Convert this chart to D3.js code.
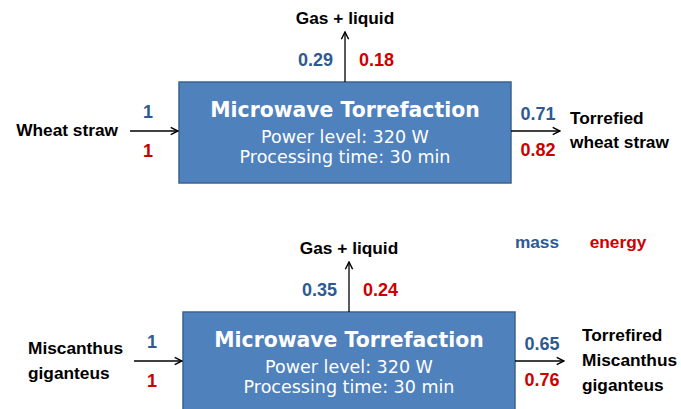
<!DOCTYPE html>
<html>
<head>
<meta charset="utf-8">
<script src="https://cdn.jsdelivr.net/npm/d3@7"></script>
<style>
  body { margin: 0; background: #fff; }
  svg { display: block; }
</style>
</head>
<body>
<div id="chart"></div>
<script>
// feedstocks and their balances (inputs normalised to 1)
const feeds = ["Wheat straw", "Miscanthus giganteus"];
const feedLabels = [["Wheat straw"], ["Miscanthus", "giganteus"]];
const productLabels = [["Torrefied", "wheat straw"], ["Torrefired", "Miscanthus", "giganteus"]];
const inputMass = [1, 1];
const inputEnergy = [1, 1];
const gasMass = [0.29, 0.35];
const gasEnergy = [0.18, 0.24];
const solidMass = [0.71, 0.65];
const solidEnergy = [0.82, 0.76];
const processTitle = "Microwave Torrefaction";
const processLines = ["Power level: 320 W", "Processing time: 30 min"];
const legendItems = ["mass", "energy"];

const width = 681, height = 409;
const blue = "#2d5a94", red = "#cc0000";
const labelFont = "'Liberation Sans', Arial, sans-serif";
const boxFont = "'DejaVu Sans', Verdana, sans-serif";

const svg = d3.select("#chart").append("svg")
  .attr("width", width).attr("height", height);

svg.append("defs").append("marker")
  .attr("id", "arr").attr("viewBox", "0 0 10 10")
  .attr("refX", 9).attr("refY", 5)
  .attr("markerWidth", 7).attr("markerHeight", 7)
  .attr("orient", "auto")
  .append("path").attr("d", "M1,1 L9,5 L1,9").attr("fill", "none")
  .attr("stroke", "#000").attr("stroke-width", 1.6);

// placement of each block
const blockY = d3.scaleOrdinal().domain(feeds).range([82, 312]);
const blockX = d3.scaleOrdinal().domain(feeds).range([179, 183]);
const fmt = d => d === 1 ? "1" : d3.format(".2f")(d);

const g = svg.selectAll(".block").data(feeds).join("g")
  .attr("class", "block")
  .attr("transform", d => `translate(${blockX(d)},${blockY(d)})`);

const bw = 332, bh = 101, midY = 49;

g.append("rect")
  .attr("x", 0).attr("y", 0).attr("width", bw).attr("height", bh)
  .attr("fill", "#4f81bd").attr("stroke", "#3a6390").attr("stroke-width", 1.5);

g.append("text").text(processTitle)
  .attr("x", bw / 2).attr("y", 35).attr("text-anchor", "middle")
  .attr("fill", "#fff").attr("font-family", boxFont)
  .attr("font-weight", "bold").attr("font-size", 20.4);

g.selectAll(".sub").data(processLines).join("text")
  .attr("class", "sub").text(d => d)
  .attr("x", bw / 2).attr("y", (d, i) => 61 + i * 20).attr("text-anchor", "middle")
  .attr("fill", "#fff").attr("font-family", boxFont)
  .attr("font-size", 17.5);

// arrows
g.append("line").attr("x1", -49).attr("x2", -1).attr("y1", midY).attr("y2", midY)
  .attr("stroke", "#000").attr("stroke-width", 1.3).attr("marker-end", "url(#arr)");
g.append("line").attr("x1", bw).attr("x2", bw + 49).attr("y1", midY).attr("y2", midY)
  .attr("stroke", "#000").attr("stroke-width", 1.3).attr("marker-end", "url(#arr)");
g.append("line").attr("x1", bw / 2).attr("x2", bw / 2).attr("y1", 0).attr("y2", -50)
  .attr("stroke", "#000").attr("stroke-width", 1.3).attr("marker-end", "url(#arr)");

const lbl = (sel, color, size) => sel.attr("font-family", labelFont).attr("font-weight", "bold")
  .attr("font-size", size || 17.3).attr("fill", color);

// gas + liquid
lbl(g.append("text").text("Gas + liquid"), "#000")
  .attr("x", bw / 2).attr("y", -58).attr("text-anchor", "middle");
lbl(g.append("text").text((d, i) => fmt(gasMass[i])), blue, 18)
  .attr("x", bw / 2 - 12).attr("y", -16).attr("text-anchor", "end");
lbl(g.append("text").text((d, i) => fmt(gasEnergy[i])), red, 18)
  .attr("x", bw / 2 + 14).attr("y", -16).attr("text-anchor", "start");

// input values
lbl(g.append("text").text((d, i) => fmt(inputMass[i])), blue, 18)
  .attr("x", -31).attr("y", midY - 13).attr("text-anchor", "middle");
lbl(g.append("text").text((d, i) => fmt(inputEnergy[i])), red, 18)
  .attr("x", -31).attr("y", midY + 26).attr("text-anchor", "middle");

// output values
lbl(g.append("text").text((d, i) => fmt(solidMass[i])), blue, 18)
  .attr("x", bw + 27).attr("y", midY - 11).attr("text-anchor", "middle");
lbl(g.append("text").text((d, i) => fmt(solidEnergy[i])), red, 18)
  .attr("x", bw + 27).attr("y", midY + 25).attr("text-anchor", "middle");

// feed and product names
g.each(function(d, i) {
  const n = feedLabels[i].length;
  d3.select(this).selectAll(".feed").data(feedLabels[i]).join("text")
    .attr("class", "feed").text(t => t)
    .attr("x", n === 1 ? -61 : -155)
    .attr("y", (t, j) => midY + 5 + (j - (n - 1) / 2) * 25)
    .attr("text-anchor", n === 1 ? "end" : "start")
    .call(s => lbl(s, "#000"));
  const m = productLabels[i].length;
  const step = m === 2 ? 24 : 25;
  d3.select(this).selectAll(".prod").data(productLabels[i]).join("text")
    .attr("class", "prod").text(t => t)
    .attr("x", bw + (m === 2 ? 59 : 67))
    .attr("y", (t, j) => midY + 5 + (j - (m - 1) / 2) * step)
    .attr("text-anchor", "start")
    .call(s => lbl(s, "#000"));
});

// legend
svg.selectAll(".legend").data(legendItems).join("text")
  .attr("class", "legend").text(d => d)
  .attr("x", (d, i) => [537, 618][i]).attr("y", 248)
  .attr("text-anchor", "middle")
  .call(s => lbl(s, blue))
  .attr("fill", (d, i) => i === 0 ? blue : red);
</script>
</body>
</html>
